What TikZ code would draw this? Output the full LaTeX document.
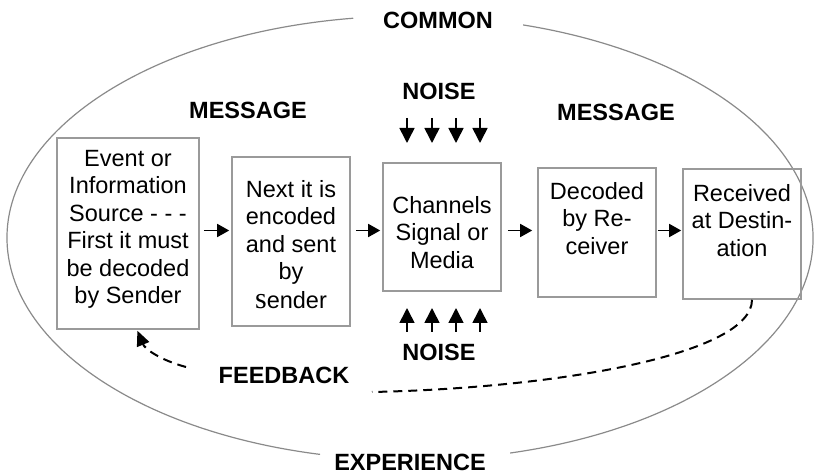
\documentclass[tikz,border=0pt]{standalone}
\usepackage{fontspec}
\setmainfont{Liberation Sans}
\newfontfamily\serifface{Liberation Serif}
\usetikzlibrary{arrows.meta,calc}
\definecolor{boxgray}{HTML}{9A9A9A}
\definecolor{rimgray}{HTML}{8A8A8A}
\begin{document}
\begin{tikzpicture}[x=1pt,y=1pt,
  every node/.style={inner sep=0pt, font=\fontsize{23.5}{27.5}\selectfont},
  stepbox/.style={draw=boxgray, line width=1.6pt},
  boxtext/.style={anchor=north, align=center},
  lbl/.style={font=\fontsize{23.5}{27.5}\selectfont\bfseries},
  flow/.style={line width=1.6pt, -{Triangle[length=12pt,width=13pt]}},
  noise/.style={line width=1.6pt, -{Triangle[length=15pt,width=15pt]}},
  fb/.style={line width=2pt, dash pattern=on 9pt off 6pt},
  rim/.style={draw=rimgray, line width=1.2pt}
]
\useasboundingbox (0,0) rectangle (814,474);

% the surrounding "common experience" oval, open at top and bottom for its labels
\coordinate (oc) at (410,236);
\draw[rim] ($(oc)+(98.1:403pt and 222pt)$)
  arc[start angle=98.1, end angle=257.1, x radius=403pt, y radius=222pt];
\draw[rim] ($(oc)+(284.4:403pt and 222pt)$)
  arc[start angle=284.4, end angle=433.7, x radius=403pt, y radius=222pt];
\node[lbl] (common) at (438,454) {COMMON};
\node[lbl] (experience) at (410,11.5) {EXPERIENCE};

% process boxes
\node[stepbox, minimum width=142pt, minimum height=191pt] (b1) at (128,240.5) {};
\node[stepbox, minimum width=118pt, minimum height=169pt] (b2) at (291,232.5) {};
\node[stepbox, minimum width=118pt, minimum height=128pt] (b3) at (442,247) {};
\node[stepbox, minimum width=118pt, minimum height=129pt] (b4) at (597,241.5) {};
\node[stepbox, minimum width=118pt, minimum height=130pt] (b5) at (742,240) {};

\node[boxtext] (t1) at (128,324) {Event or\\Information\\Source - - -\\First it must\\be decoded\\by Sender};
\node[boxtext] (t2) at (291,294) {Next it is\\encoded\\and sent\\by\\[1pt]{\serifface\fontsize{30}{30}\selectfont s}ender};
\node[boxtext] (t3) at (442,278) {Channels\\Signal or\\Media};
\node[boxtext] (t4) at (597,292) {Decoded\\by Re-\\ceiver};
\node[boxtext] (t5) at (742,290) {Received\\at Destin-\\ation};

% flow arrows between the boxes
\coordinate (ay) at (0,243.5);
\draw[flow, shorten <=4pt, shorten >=2pt] (b1.east |- ay) -- (b2.west |- ay);
\draw[flow, shorten <=5pt, shorten >=2pt] (b2.east |- ay) -- (b3.west |- ay);
\draw[flow, shorten <=6pt, shorten >=5pt] (b3.east |- ay) -- (b4.west |- ay);
\draw[flow, shorten <=1pt, shorten >=1pt] (b4.east |- ay) -- (b5.west |- ay);

% labels
\node[lbl] (msg1) at (248,364) {MESSAGE};
\node[lbl] (msg2) at (616,362) {MESSAGE};
\node[lbl] (noiseT) at (439,382.5) {NOISE};
\node[lbl] (noiseB) at (439,122) {NOISE};
\node[lbl] (feedback) at (284,99) {FEEDBACK};

% noise arrows above and below the channel
\foreach \x [count=\i] in {407,432,456,480}{
  \coordinate (nt\i) at (\x,356);
  \coordinate (nth\i) at (\x,331);
  \coordinate (nb\i) at (\x,142);
  \coordinate (nbh\i) at (\x,166);
  \draw[noise] (nt\i) -- (nth\i);
  \draw[noise] (nb\i) -- (nbh\i);
}

% feedback loop, broken by its label
\coordinate (fbA) at (372,82);
\coordinate (fbB) at (186,107);
\draw[fb] ([xshift=10pt]b5.south) .. controls (752,120) and (560,86) .. (fbA);
\draw[fb, -{Triangle[length=15pt,width=13pt]}, shorten >=1pt]
  (fbB) .. controls (160,114) and (145,125) .. ([xshift=9pt]b1.south);
\end{tikzpicture}
\end{document}
